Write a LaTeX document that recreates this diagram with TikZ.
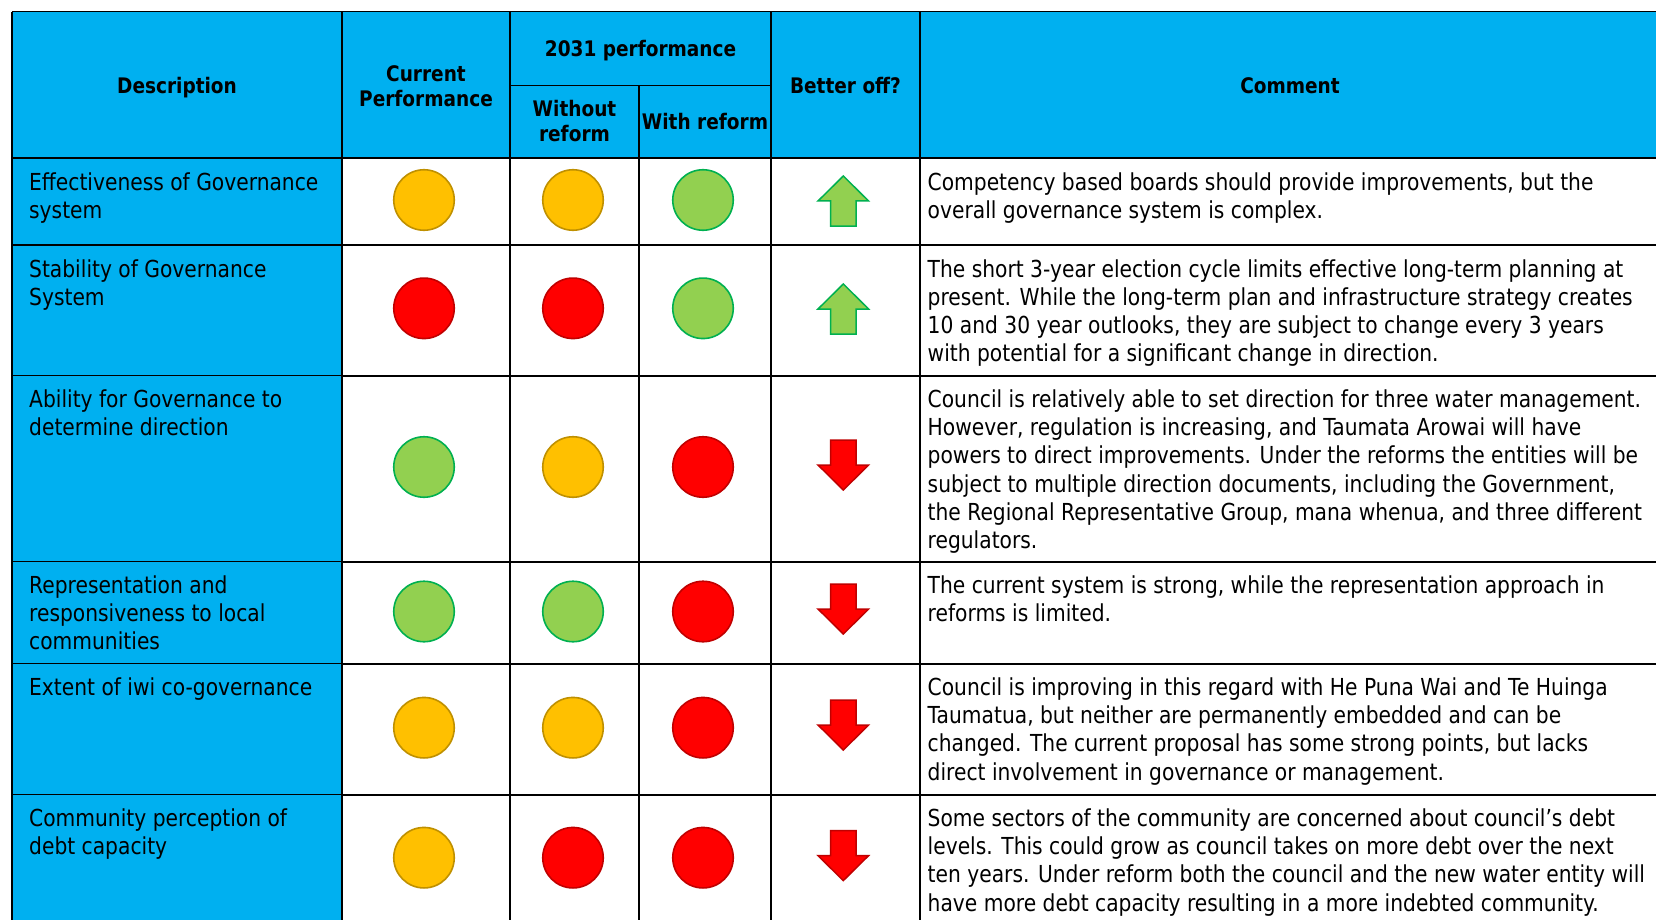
\documentclass[tikz,border=0pt]{standalone}
\usepackage{fontspec}
\setmainfont{DejaVu Sans}[FakeStretch=0.865]
\definecolor{hdrblue}{HTML}{00B0F0}
\definecolor{amberF}{HTML}{FFC000}
\definecolor{amberD}{HTML}{BF9000}
\definecolor{redF}{HTML}{FF0000}
\definecolor{redD}{HTML}{C00000}
\definecolor{greenF}{HTML}{92D050}
\definecolor{greenD}{HTML}{00B050}
\tikzset{
  dot/.style={circle, minimum size=60.5pt, inner sep=0pt, line width=1.6pt},
  amb/.style={dot, fill=amberF, draw=amberD},
  rd/.style={dot, fill=redF, draw=redD},
  grn/.style={dot, fill=greenF, draw=greenD},
  bodytxt/.style={anchor=base west, align=left, inner sep=0pt, font=\fontsize{23.4}{28.2}\selectfont},
  hdr/.style={anchor=base, align=center, inner sep=0pt, font=\bfseries\fontsize{21.4}{25}\selectfont},
  gridthick/.style={line width=2pt, black},
  gridthin/.style={line width=1.1pt, black},
  uparr/.pic={\draw[line width=1.5pt, draw=greenD, fill=greenF, line join=miter] (0,-25)--(25.3,0)--(12.7,0)--(12.7,25)--(-12.7,25)--(-12.7,0)--(-25.3,0)--cycle;},
  dnarr/.pic={\draw[line width=1.5pt, draw=redD, fill=redF, line join=miter] (0,25)--(25.3,0)--(12.7,0)--(12.7,-25)--(-12.7,-25)--(-12.7,0)--(-25.3,0)--cycle;},
}
\begin{document}
\begin{tikzpicture}[x=1pt, y=-1pt]
\useasboundingbox (0,0) rectangle (1656,920);
\clip (0,0) rectangle (1656,920);
% fills
\fill[white] (0,0) rectangle (1656,920);
\fill[hdrblue] (12,11.7) rectangle (1670,158.3);
\fill[hdrblue] (12,158.3) rectangle (342,940);
% grid
\draw[gridthin] (12,11.7) -- (1670,11.7);
\draw[gridthin] (12,11.7) -- (12,940);
\draw[gridthin] (510,85.3) -- (771,85.3);
\draw[gridthick] (12,158.3) -- (1670,158.3);
\foreach \yy in {245,375.5,561.5,663.5,794.5}{
  \draw[gridthin] (12,\yy) -- (342,\yy);
  \draw[gridthick] (342,\yy) -- (1670,\yy);
}
\foreach \xx in {342,510,771,920}{
  \draw[gridthick] (\xx,11.7) -- (\xx,940);
}
\draw[gridthick] (639,85.3) -- (639,940);
% header (anchor base = last line)
\node[hdr] (hDesc) at (177,94) {Description};
\node[hdr] (hCur) at (426,106.5) {Current\\Performance};
\node[hdr] (h2031) at (640.5,56.7) {2031 performance};
\node[hdr] (hWo) at (574.5,141.7) {Without\\reform};
\node[hdr] (hWi) at (705,130) {With reform};
\node[hdr] (hBet) at (845.5,94) {Better off?};
\node[hdr] (hCom) at (1290,94) {Comment};
% descriptions (anchor base = last line)
\node[bodytxt] (d1) at (29,218.5) {Effectiveness of Governance\\system};
\node[bodytxt] (d2) at (29,305.2) {Stability of Governance\\System};
\node[bodytxt] (d3) at (29,435.7) {Ability for Governance to\\determine direction};
\node[bodytxt] (d4) at (29,649.9) {Representation and\\responsiveness to local\\communities};
\node[bodytxt] (d5) at (29,695.5) {Extent of iwi co-governance};
\node[bodytxt] (d6) at (29,854.7) {Community perception of\\debt capacity};
% comments
\node[bodytxt] (c1) at (927.5,218.5) {Competency based boards should provide improvements, but the\\overall governance system is complex.};
\node[bodytxt] (c2) at (927.5,361.6) {The short 3-year election cycle limits effective long-term planning at\\present. While the long-term plan and infrastructure strategy creates\\10 and 30 year outlooks, they are subject to change every 3 years\\with potential for a significant change in direction.};
\node[bodytxt] (c3) at (927.5,548.5) {Council is relatively able to set direction for three water management.\\However, regulation is increasing, and Taumata Arowai will have\\powers to direct improvements. Under the reforms the entities will be\\subject to multiple direction documents, including the Government,\\the Regional Representative Group, mana whenua, and three different\\regulators.};
\node[bodytxt] (c4) at (927.5,621.7) {The current system is strong, while the representation approach in\\reforms is limited.};
\node[bodytxt] (c5) at (927.5,780.1) {Council is improving in this regard with He Puna Wai and Te Huinga\\Taumatua, but neither are permanently embedded and can be\\changed. The current proposal has some strong points, but lacks\\direct involvement in governance or management.};
\node[bodytxt] (c6) at (927.5,911.1) {Some sectors of the community are concerned about council’s debt\\levels. This could grow as council takes on more debt over the next\\ten years. Under reform both the council and the new water entity will\\have more debt capacity resulting in a more indebted community.};
% circles
\node[amb] (r1a) at (424,200) {};
\node[amb] (r1b) at (573,200) {};
\node[grn] (r1c) at (703,200) {};
\node[rd]  (r2a) at (424,308.3) {};
\node[rd]  (r2b) at (573,308.3) {};
\node[grn] (r2c) at (703,308.3) {};
\node[grn] (r3a) at (424,467) {};
\node[amb] (r3b) at (573,467) {};
\node[rd]  (r3c) at (703,467) {};
\node[grn] (r4a) at (424,611.5) {};
\node[grn] (r4b) at (573,611.5) {};
\node[rd]  (r4c) at (703,611.5) {};
\node[amb] (r5a) at (424,727.7) {};
\node[amb] (r5b) at (573,727.7) {};
\node[rd]  (r5c) at (703,727.7) {};
\node[amb] (r6a) at (424,857.7) {};
\node[rd]  (r6b) at (573,857.7) {};
\node[rd]  (r6c) at (703,857.7) {};
% arrows
\pic (a1) at (843.3,201) {uparr};
\pic (a2) at (843.3,309) {uparr};
\pic (a3) at (843.3,465) {dnarr};
\pic (a4) at (843.3,609) {dnarr};
\pic (a5) at (843.3,725) {dnarr};
\pic (a6) at (843.3,855.6) {dnarr};
\end{tikzpicture}
\end{document}
